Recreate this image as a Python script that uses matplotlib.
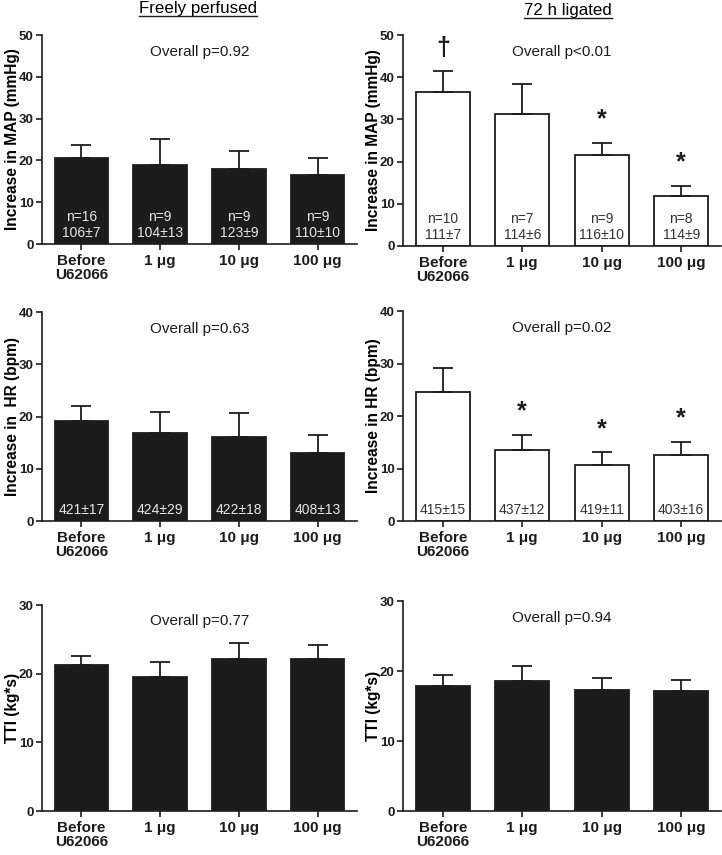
import matplotlib
matplotlib.use("Agg")
import matplotlib.pyplot as plt
from matplotlib.lines import Line2D

plt.rcParams['font.family'] = ['Liberation Sans', 'DejaVu Sans']

categories = ["Before\nU62066", "1 \u03bcg", "10 \u03bcg", "100 \u03bcg"]

# values (mean, top of error bar)
map_free = [20.5, 18.9, 18.0, 16.6]
map_free_top = [23.6, 25.0, 22.2, 20.5]
map_lig = [36.4, 31.3, 21.5, 11.75]
map_lig_top = [41.5, 38.3, 24.5, 14.3]
hr_free = [19.1, 16.9, 16.1, 12.95]
hr_free_top = [22.0, 20.9, 20.6, 16.5]
hr_lig = [24.5, 13.5, 10.6, 12.6]
hr_lig_top = [29.1, 16.4, 13.1, 15.1]
tti_free = [21.2, 19.5, 22.1, 22.2]
tti_free_top = [22.6, 21.65, 24.5, 24.2]
tti_lig = [17.9, 18.6, 17.3, 17.1]
tti_lig_top = [19.45, 20.7, 19.0, 18.7]

map_free_txt = ["n=16\n106\u00b17", "n=9\n104\u00b113", "n=9\n123\u00b19", "n=9\n110\u00b110"]
map_lig_txt = ["n=10\n111\u00b17", "n=7\n114\u00b16", "n=9\n116\u00b110", "n=8\n114\u00b19"]
hr_free_txt = ["421\u00b117", "424\u00b129", "422\u00b118", "408\u00b113"]
hr_lig_txt = ["415\u00b115", "437\u00b112", "419\u00b111", "403\u00b116"]

map_lig_marks = ["\u2020", "", "*", "*"]
hr_lig_marks = ["", "*", "*", "*"]

fig = plt.figure(figsize=(7.22, 8.55), dpi=100)
W, H = 722, 855


def make_ax(x0, x1, ytop, ybot):
    return fig.add_axes([x0 / W, 1 - ybot / H, (x1 - x0) / W, (ybot - ytop) / H])


def panel(ax, vals, tops, ymax, ylabel, ptext, filled, inner=None, marks=None):
    x = list(range(len(vals)))
    err = [t - v for t, v in zip(tops, vals)]
    face = '#1c1c1c' if filled else 'white'
    ax.bar(x, vals, width=0.68, color=face, edgecolor='#1c1c1c', linewidth=1.3,
           yerr=[[0] * len(vals), err],
           error_kw=dict(ecolor='#1c1c1c', elinewidth=1.3, capsize=7, capthick=1.3),
           zorder=2)
    ax.set_xlim(-0.5, 3.5)
    ax.set_ylim(0, ymax)
    ax.set_yticks(range(0, ymax + 1, 10))
    ax.set_xticks(x)
    ax.set_xticklabels(categories, fontsize=11, fontweight='bold', linespacing=1.0)
    for lab in ax.get_yticklabels():
        lab.set_fontweight('bold')
        lab.set_fontsize(9.5)
    ax.set_ylabel(ylabel, fontsize=11.2, fontweight='bold', va='center')
    ax.yaxis.set_label_coords(-0.093, 0.5)
    for s in ['top', 'right']:
        ax.spines[s].set_visible(False)
    for s in ['left', 'bottom']:
        ax.spines[s].set_linewidth(1.2)
        ax.spines[s].set_color('#1c1c1c')
    ax.tick_params(axis='both', direction='out', length=4, width=1.2, color='#1c1c1c',
                   labelcolor='#1c1c1c', pad=2)
    ax.tick_params(axis='x', pad=3)
    ax.text(0.5, 0.92, ptext, transform=ax.transAxes, ha='center', va='center',
            fontsize=11, color='#1c1c1c')
    tcol = '#e6e6e6' if filled else '#333333'
    if inner:
        for xi, t in zip(x, inner):
            ax.text(xi, 0.02, t, transform=ax.get_xaxis_transform(), ha='center',
                    va='bottom', fontsize=10, color=tcol, linespacing=1.15, zorder=3)
    if marks:
        for xi, m, t in zip(x, marks, tops):
            if m:
                ax.text(xi, t + 0.11 * ymax, m, ha='center', va='center',
                        fontsize=18, fontweight='bold', color='#1c1c1c')


ax1 = make_ax(42, 357, 35, 244)
ax2 = make_ax(403, 721, 35, 246)
ax3 = make_ax(42, 357, 312, 521)
ax4 = make_ax(403, 721, 311, 521)
ax5 = make_ax(42, 357, 605, 811)
ax6 = make_ax(403, 721, 601, 811)

panel(ax1, map_free, map_free_top, 50, "Increase in MAP (mmHg)", "Overall p=0.92", True, map_free_txt)
panel(ax2, map_lig, map_lig_top, 50, "Increase in MAP (mmHg)", "Overall p<0.01", False, map_lig_txt, map_lig_marks)
panel(ax3, hr_free, hr_free_top, 40, "Increase in  HR (bpm)", "Overall p=0.63", True, hr_free_txt)
panel(ax4, hr_lig, hr_lig_top, 40, "Increase in HR (bpm)", "Overall p=0.02", False, hr_lig_txt, hr_lig_marks)
panel(ax5, tti_free, tti_free_top, 30, "TTI (kg*s)", "Overall p=0.77", True)
panel(ax6, tti_lig, tti_lig_top, 30, "TTI (kg*s)", "Overall p=0.94", True)

# underlined column titles
titles = [fig.text(198 / W, 1 - 9 / H, "Freely perfused", ha='center', va='center', fontsize=12.2),
          fig.text(568 / W, 1 - 11 / H, "72 h ligated", ha='center', va='center', fontsize=12.2)]
fig.canvas.draw()
for t in titles:
    bb = t.get_window_extent()
    y = (bb.y0 + 0.5) / H
    fig.add_artist(Line2D([bb.x0 / W, bb.x1 / W], [y, y], color='#1c1c1c', linewidth=1.0))

fig.savefig("out.png", dpi=100)
